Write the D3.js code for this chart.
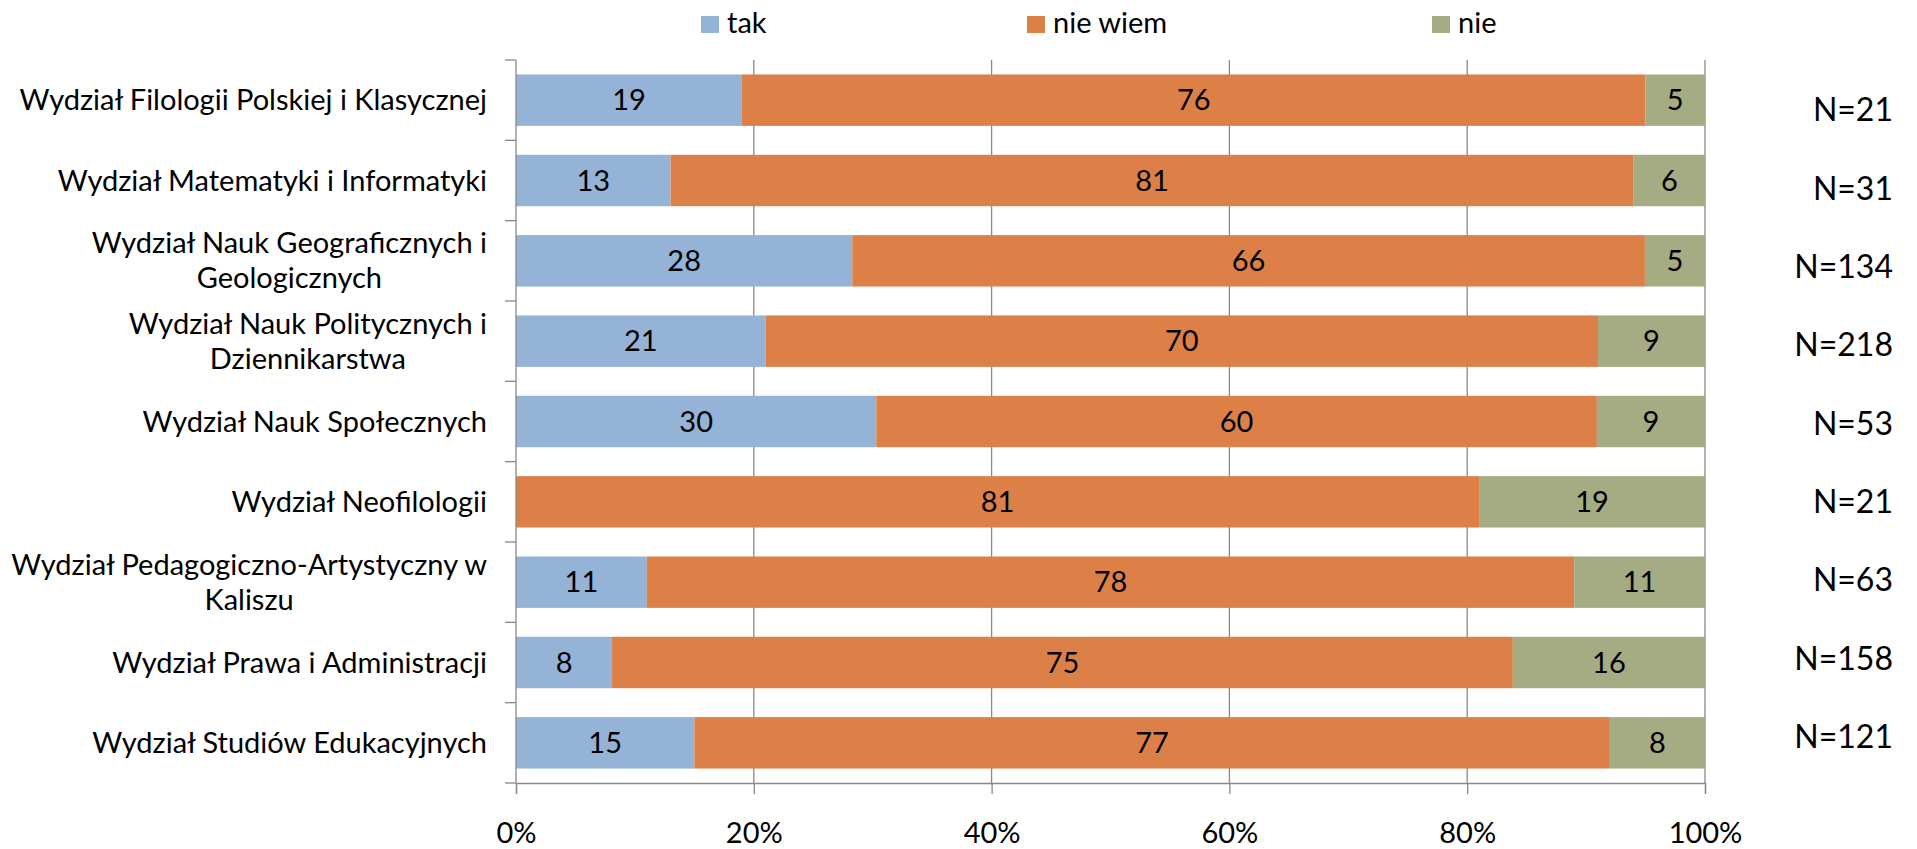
<!DOCTYPE html>
<html>
<head>
<meta charset="utf-8">
<script src="https://cdn.jsdelivr.net/npm/d3@7"></script>
<style>
  html, body { margin: 0; padding: 0; background: #fff; }
  svg { display: block; }
  text { font-family: Lato, "Open Sans", sans-serif; fill: #000; }
</style>
</head>
<body>
<svg id="chart" width="1917" height="849"></svg>
<script>
const categories = [
  "Wydział Filologii Polskiej i Klasycznej",
  "Wydział Matematyki i Informatyki",
  "Wydział Nauk Geograficznych i\nGeologicznych",
  "Wydział Nauk Politycznych i\nDziennikarstwa",
  "Wydział Nauk Społecznych",
  "Wydział Neofilologii",
  "Wydział Pedagogiczno-Artystyczny w\nKaliszu",
  "Wydział Prawa i Administracji",
  "Wydział Studiów Edukacyjnych"
];
const seriesNames = ["tak", "nie wiem", "nie"];
const tak     = [19, 13, 28, 21, 30, 0, 11, 8, 15];
const nieWiem = [76, 81, 66, 70, 60, 81, 78, 75, 77];
const nie     = [5, 6, 5, 9, 9, 19, 11, 16, 8];
const nLabels = ["N=21", "N=31", "N=134", "N=218", "N=53", "N=21", "N=63", "N=158", "N=121"];
const xTicks = [0, 0.2, 0.4, 0.6, 0.8, 1];
const colors = ["#95B3D7", "#DD8048", "#A5AB82"];

(function () {
const svg = d3.select("#chart");
const FS = 29;
const pLeft = 516, pRight = 1705, pTop = 60, pBottom = 783;

const rows = categories.map((c, i) => ({cat: c, "tak": tak[i], "nie wiem": nieWiem[i], "nie": nie[i]}));
const stacked = d3.stack().keys(seriesNames).offset(d3.stackOffsetExpand)(rows);

const x = d3.scaleLinear().domain([0, 1]).range([pLeft, pRight]);
const y = d3.scaleBand().domain(categories).range([pTop, pBottom]).paddingInner(0.36).paddingOuter(0.18);
const nY = d3.scalePoint().domain(d3.range(categories.length)).range([110, 737]);
const color = d3.scaleOrdinal().domain(seriesNames).range(colors);

// gridlines
svg.append("g").selectAll("line").data(xTicks.slice(1)).join("line")
  .attr("x1", d => x(d)).attr("x2", d => x(d))
  .attr("y1", pTop).attr("y2", pBottom)
  .attr("stroke", "#888").attr("stroke-width", 1.3);

// bars
const layer = svg.append("g").selectAll("g").data(stacked).join("g")
  .attr("fill", d => color(d.key));
layer.selectAll("rect").data(d => d.map(v => ({v, key: d.key}))).join("rect")
  .attr("x", d => x(d.v[0]))
  .attr("width", d => x(d.v[1]) - x(d.v[0]))
  .attr("y", d => y(d.v.data.cat))
  .attr("height", y.bandwidth());

// value labels
const lab = svg.append("g").selectAll("g").data(stacked).join("g");
lab.selectAll("text").data(d => d.map(v => ({v, key: d.key})).filter(d => d.v.data[d.key] > 0)).join("text")
  .attr("x", d => (x(d.v[0]) + x(d.v[1])) / 2)
  .attr("y", d => y(d.v.data.cat) + y.bandwidth() / 2)
  .attr("dy", "0.35em")
  .attr("text-anchor", "middle")
  .style("font-size", FS + "px")
  .text(d => d.v.data[d.key]);

// axes
const xAxis = d3.axisBottom(x).tickValues(xTicks).tickFormat(d3.format(".0%")).tickSize(11).tickPadding(28);
const gx = svg.append("g").attr("transform", `translate(0,${pBottom})`).call(xAxis);
gx.select(".domain").attr("stroke", "#888").attr("stroke-width", 1.3);
gx.selectAll(".tick line").attr("stroke", "#888").attr("stroke-width", 1.3);
gx.selectAll(".tick text").style("font-size", FS + "px").attr("fill", "#000")
  .style("font-family", "Lato, 'Open Sans', sans-serif").attr("dy", "0.71em");

// y axis line and ticks at band boundaries
const step = y.step();
const bounds = d3.range(categories.length + 1).map(i => pTop + i * step);
svg.append("line").attr("x1", pLeft).attr("x2", pLeft).attr("y1", pTop).attr("y2", pBottom)
  .attr("stroke", "#888").attr("stroke-width", 1.3);
svg.append("g").selectAll("line").data(bounds).join("line")
  .attr("x1", pLeft - 11).attr("x2", pLeft).attr("y1", d => d).attr("y2", d => d)
  .attr("stroke", "#888").attr("stroke-width", 1.3);

// category labels
const labelRight = 487;
const lineH = 35;
categories.forEach(c => {
  const lines = c.split("\n");
  const t = svg.append("text").attr("text-anchor", "middle").style("font-size", FS + "px");
  const cy = y(c) + y.bandwidth() / 2;
  lines.forEach((ln, j) => {
    t.append("tspan").attr("y", cy + (j - (lines.length - 1) / 2) * lineH).attr("dy", "0.35em").text(ln);
  });
  const widths = [];
  t.selectAll("tspan").each(function() { widths.push(this.getComputedTextLength()); });
  const maxW = d3.max(widths);
  t.selectAll("tspan").attr("x", labelRight - maxW / 2);
});

// N labels
svg.append("g").selectAll("text").data(nLabels).join("text")
  .attr("x", 1893).attr("y", (d, i) => nY(i)).attr("dy", "0.35em")
  .attr("text-anchor", "end").style("font-size", "32px").text(d => d);

// legend
const legendX = [701, 1027, 1432];
const lg = svg.append("g").selectAll("g").data(seriesNames).join("g")
  .attr("transform", (d, i) => `translate(${legendX[i]},0)`);
lg.append("rect").attr("x", 0).attr("y", 16).attr("width", 18).attr("height", 17).attr("fill", d => color(d));
lg.append("text").attr("x", 26).attr("y", 33).style("font-size", FS + "px").text(d => d);
})();
</script>
</body>
</html>
